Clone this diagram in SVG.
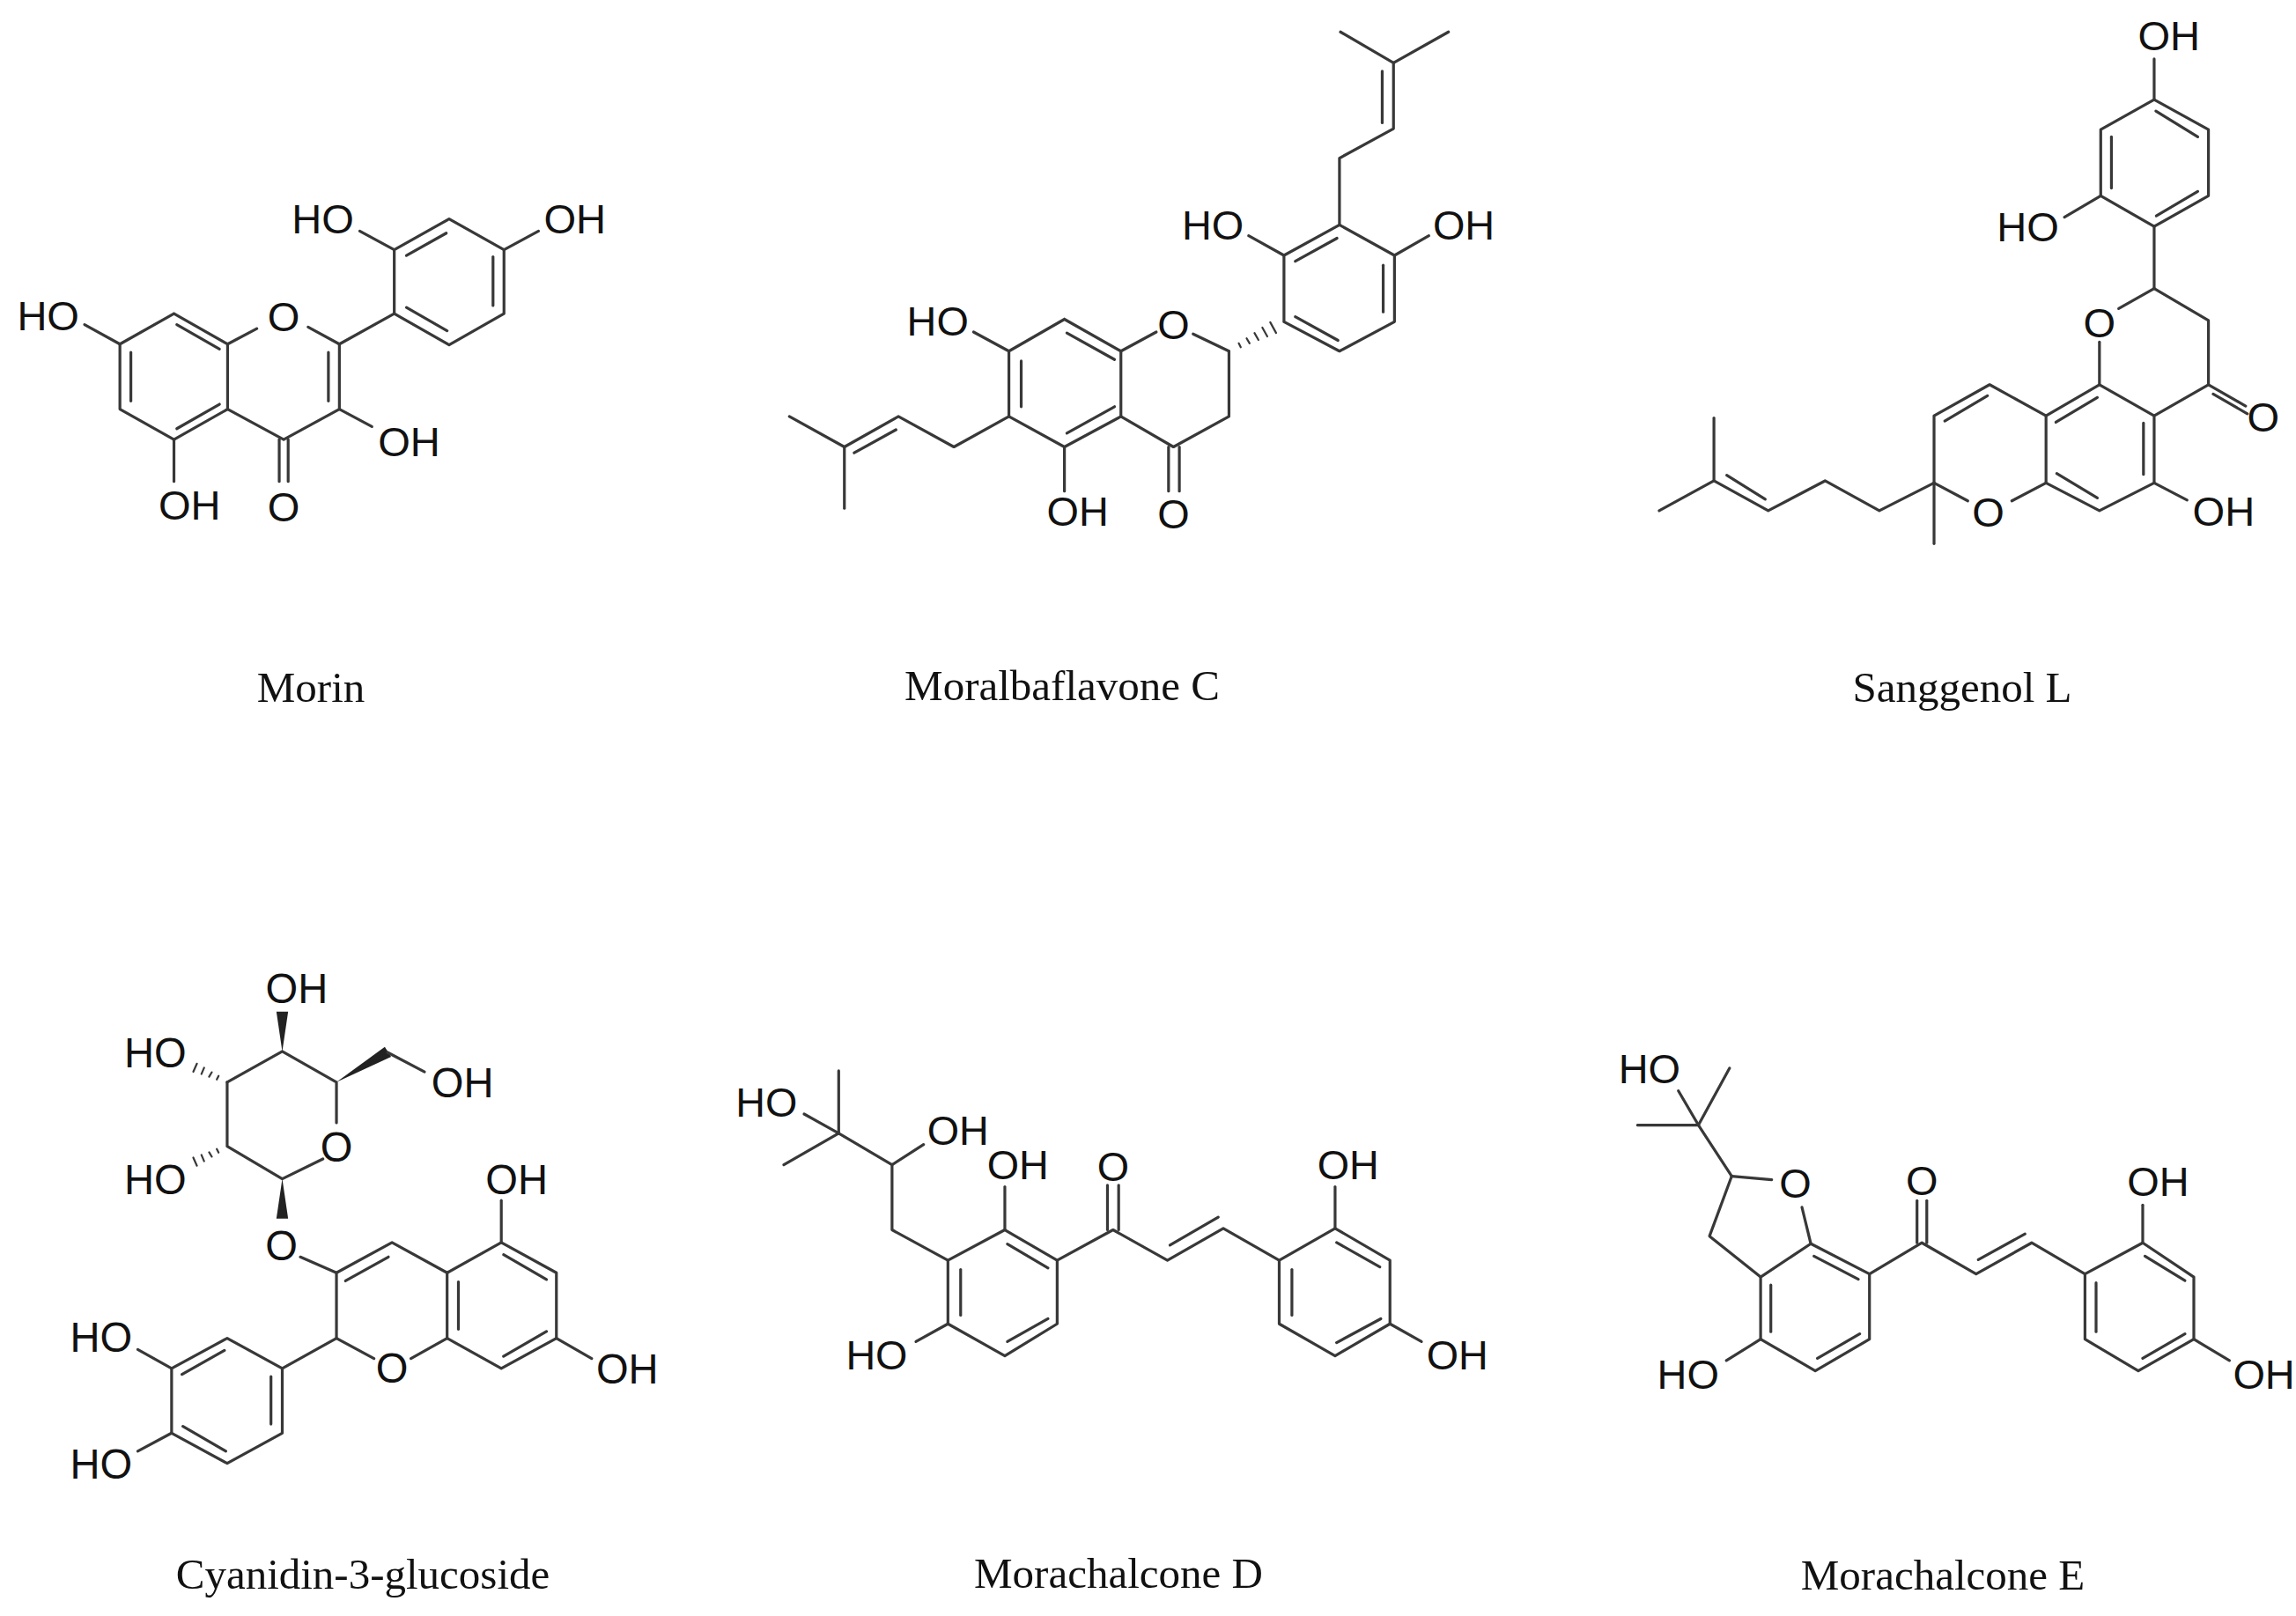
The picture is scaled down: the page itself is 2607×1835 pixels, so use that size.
<svg xmlns="http://www.w3.org/2000/svg" width="2607" height="1835" viewBox="0 0 2607 1835">
<style>
line,polyline{stroke:#383838;stroke-width:3.2;fill:none;vector-effect:non-scaling-stroke;stroke-linecap:round;stroke-linejoin:round}
.h line{stroke-width:2.2}
polygon{fill:#222;stroke:none}
text{font-family:"Liberation Sans",Arial,sans-serif;fill:#111}
text.c{text-anchor:middle}
.cap{font-family:"Liberation Serif","Times New Roman",serif;font-size:49px;text-anchor:middle;fill:#111}
</style>
<rect width="2607" height="1835" fill="#fff"/>

<g id="morin" transform="translate(0,100) scale(0.4615)" font-size="102">
<polyline points="428,555 560,630 560,790 428,865 295,790 295,630 428,555"/>
<line x1="435" y1="582" x2="540" y2="642"/><line x1="322" y1="650" x2="322" y2="770"/><line x1="435" y1="838" x2="540" y2="778"/>
<line x1="560" y1="630" x2="632" y2="592"/><line x1="758" y1="588" x2="835" y2="630"/>
<polyline points="835,630 835,790 698,865 560,790"/>
<line x1="808" y1="650" x2="808" y2="770"/>
<line x1="687" y1="865" x2="687" y2="968"/><line x1="709" y1="865" x2="709" y2="968"/>
<line x1="835" y1="790" x2="915" y2="833"/><line x1="428" y1="865" x2="428" y2="968"/><line x1="295" y1="630" x2="208" y2="582"/>
<line x1="835" y1="630" x2="970" y2="555"/>
<polyline points="970,555 970,398 1105,322 1240,398 1240,555 1105,632 970,555"/>
<line x1="1000" y1="412" x2="1098" y2="357"/><line x1="1213" y1="415" x2="1213" y2="535"/><line x1="1000" y1="540" x2="1100" y2="597"/>
<line x1="970" y1="398" x2="885" y2="352"/><line x1="1240" y1="398" x2="1325" y2="352"/>
<text class="c" x="698" y="597">O</text><text class="c" x="698" y="1067">O</text>
<text x="930" y="905">OH</text><text x="390" y="1062">OH</text><text x="42" y="595">HO</text>
<text x="718" y="358">HO</text><text x="1338" y="358">OH</text>
</g>

<g id="moralbaflavone-c" transform="translate(850,0) scale(0.5577)" font-size="84">
<polyline points="643,650 758,715 758,848 643,910 530,848 530,715 643,650"/>
<line x1="648" y1="678" x2="745" y2="732"/><line x1="555" y1="735" x2="555" y2="828"/><line x1="648" y1="882" x2="745" y2="828"/>
<line x1="758" y1="715" x2="830" y2="676"/><line x1="905" y1="680" x2="978" y2="715"/>
<polyline points="978,715 978,848 865,910 758,848"/>
<line x1="855" y1="910" x2="855" y2="1000"/><line x1="877" y1="910" x2="877" y2="1000"/>
<line x1="643" y1="910" x2="643" y2="1000"/><line x1="530" y1="715" x2="458" y2="676"/>
<polyline points="530,848 418,910 305,848 195,910 83,848"/><line x1="300" y1="875" x2="215" y2="922"/><line x1="195" y1="910" x2="195" y2="1035"/>
<g class="h"><line x1="998" y1="699" x2="1002" y2="707"/><line x1="1014" y1="689" x2="1020" y2="699"/><line x1="1030" y1="678" x2="1038" y2="692"/><line x1="1046" y1="667" x2="1056" y2="685"/><line x1="1062" y1="656" x2="1074" y2="678"/></g>
<polyline points="1090,655 1090,520 1203,458 1315,520 1315,655 1203,715 1090,655"/>
<line x1="1113" y1="532" x2="1198" y2="485"/><line x1="1292" y1="540" x2="1292" y2="635"/><line x1="1113" y1="645" x2="1200" y2="693"/>
<line x1="1090" y1="520" x2="1018" y2="480"/><line x1="1315" y1="520" x2="1385" y2="480"/>
<polyline points="1203,458 1203,322 1313,262 1313,128 1205,65"/><line x1="1290" y1="145" x2="1290" y2="250"/><line x1="1313" y1="128" x2="1425" y2="65"/>
<text class="c" x="865" y="690">O</text><text class="c" x="865" y="1075">O</text>
<text x="607" y="1070">OH</text><text x="322" y="683">HO</text><text x="882" y="487">HO</text><text x="1393" y="487">OH</text>
</g>

<g id="sanggenol-l" transform="translate(1850,0) scale(0.4853)" font-size="97">
<polyline points="1228,530 1103,458 1103,303 1228,233 1355,303 1355,458 1228,530"/>
<line x1="1128" y1="320" x2="1128" y2="440"/><line x1="1232" y1="260" x2="1330" y2="320"/><line x1="1233" y1="505" x2="1330" y2="448"/>
<line x1="1228" y1="233" x2="1228" y2="138"/><line x1="1103" y1="458" x2="1018" y2="508"/>
<line x1="1228" y1="530" x2="1228" y2="675"/><line x1="1228" y1="675" x2="1145" y2="722"/>
<polyline points="1228,675 1355,750 1355,900 1228,973 1228,1130 1100,1195 975,1130 975,973 1100,900 1228,973"/>
<line x1="1355" y1="900" x2="1442" y2="950"/><line x1="1366" y1="922" x2="1446" y2="968"/>
<line x1="1203" y1="990" x2="1203" y2="1110"/><line x1="1228" y1="1130" x2="1305" y2="1170"/>
<line x1="1000" y1="1108" x2="1095" y2="1165"/><line x1="998" y1="988" x2="1095" y2="930"/>
<line x1="1100" y1="900" x2="1100" y2="800"/>
<line x1="975" y1="1130" x2="895" y2="1172"/><line x1="792" y1="1172" x2="713" y2="1130"/>
<polyline points="975,973 843,900 713,973 713,1130"/><line x1="838" y1="926" x2="738" y2="985"/>
<line x1="713" y1="1130" x2="713" y2="1272"/>
<polyline points="713,1130 585,1195 458,1125 325,1195 198,1125 70,1195"/><line x1="318" y1="1168" x2="228" y2="1112"/><line x1="198" y1="1125" x2="198" y2="978"/>
<text class="c" x="1100" y="790">O</text><text class="c" x="1483" y="1010">O</text><text class="c" x="840" y="1233">O</text>
<text x="1190" y="118">OH</text><text x="860" y="565">HO</text><text x="1318" y="1230">OH</text>
</g>

<g id="cyanidin-3-glucoside" transform="translate(0,1035) scale(0.5128)" font-size="92">
<polyline points="503,378 625,310 745,378 745,468"/>
<polyline points="715,548 625,592 503,520 503,378"/>
<polygon points="625,310 612,222 638,222"/>
<polygon points="745,378 852,300 866,322"/><line x1="858" y1="312" x2="940" y2="355"/>
<polygon points="625,592 612,680 638,680"/>
<g class="h"><line x1="484" y1="364" x2="480" y2="372"/><line x1="469" y1="356" x2="463" y2="366"/><line x1="452" y1="346" x2="446" y2="360"/><line x1="436" y1="337" x2="428" y2="355"/>
<line x1="484" y1="534" x2="480" y2="526"/><line x1="469" y1="543" x2="463" y2="533"/><line x1="452" y1="553" x2="446" y2="539"/><line x1="436" y1="563" x2="428" y2="545"/></g>
<line x1="665" y1="765" x2="745" y2="800"/>
<polyline points="910,990 990,945 990,800 868,733 745,800 745,945 828,990"/>
<line x1="765" y1="818" x2="860" y2="765"/>
<polyline points="990,800 1110,733 1232,800 1232,945 1110,1012 990,945"/>
<line x1="1015" y1="820" x2="1015" y2="925"/><line x1="1115" y1="760" x2="1210" y2="815"/><line x1="1210" y1="930" x2="1115" y2="985"/>
<line x1="1110" y1="733" x2="1110" y2="640"/><line x1="1232" y1="945" x2="1310" y2="990"/>
<line x1="745" y1="945" x2="625" y2="1012"/>
<polyline points="625,1012 503,945 380,1012 380,1155 503,1222 625,1155 625,1012"/>
<line x1="497" y1="972" x2="403" y2="1025"/><line x1="600" y1="1030" x2="600" y2="1135"/><line x1="405" y1="1140" x2="500" y2="1195"/>
<line x1="380" y1="1012" x2="305" y2="970"/><line x1="380" y1="1155" x2="305" y2="1195"/>
<text class="c" x="745" y="553">O</text><text class="c" x="623" y="773">O</text><text class="c" x="868" y="1043">O</text>
<text x="588" y="203">OH</text><text x="275" y="345">HO</text><text x="955" y="412">OH</text><text x="275" y="625">HO</text>
<text x="1075" y="625">OH</text><text x="1320" y="1045">OH</text><text x="155" y="975">HO</text><text x="155" y="1255">HO</text>
</g>

<g id="morachalcone-d" transform="translate(815,935) scale(0.5769)" font-size="81">
<polyline points="565,800 668,860 668,985 565,1048 453,985 453,860 565,800"/>
<line x1="570" y1="828" x2="650" y2="875"/><line x1="478" y1="878" x2="478" y2="968"/><line x1="570" y1="1020" x2="650" y2="975"/>
<line x1="565" y1="800" x2="565" y2="715"/><line x1="453" y1="985" x2="390" y2="1020"/>
<polyline points="453,860 343,800 343,672 238,610 130,672"/><line x1="343" y1="672" x2="405" y2="632"/>
<line x1="238" y1="610" x2="238" y2="487"/><line x1="238" y1="610" x2="170" y2="572"/>
<polyline points="668,860 778,800 885,860 995,797 1105,860"/>
<line x1="767" y1="800" x2="767" y2="712"/><line x1="789" y1="800" x2="789" y2="712"/>
<line x1="890" y1="830" x2="985" y2="775"/>
<polyline points="1105,860 1215,797 1323,860 1323,985 1215,1048 1105,985 1105,860"/>
<line x1="1218" y1="825" x2="1303" y2="873"/><line x1="1130" y1="878" x2="1130" y2="968"/><line x1="1305" y1="975" x2="1218" y2="1022"/>
<line x1="1215" y1="797" x2="1215" y2="715"/><line x1="1323" y1="985" x2="1385" y2="1020"/>
<text class="c" x="778" y="703">O</text>
<text x="530" y="700">OH</text><text x="252" y="1075">HO</text><text x="412" y="632">OH</text><text x="35" y="578">HO</text>
<text x="1180" y="700">OH</text><text x="1395" y="1075">OH</text>
</g>

<g id="morachalcone-e" transform="translate(1820,1048) scale(0.5045)" font-size="93">
<polyline points="468,722 600,790 600,937 478,1008 355,937 355,797 468,722"/>
<line x1="475" y1="750" x2="575" y2="802"/><line x1="378" y1="815" x2="378" y2="920"/><line x1="578" y1="925" x2="483" y2="980"/>
<line x1="355" y1="937" x2="278" y2="985"/>
<line x1="468" y1="722" x2="448" y2="640"/><line x1="380" y1="578" x2="290" y2="570"/>
<polyline points="290,570 240,705 355,797"/>
<line x1="290" y1="570" x2="215" y2="455"/><line x1="215" y1="455" x2="78" y2="455"/><line x1="215" y1="455" x2="285" y2="327"/><line x1="215" y1="455" x2="170" y2="378"/>
<polyline points="600,790 718,720 840,790 965,720 1085,790"/>
<line x1="707" y1="720" x2="707" y2="625"/><line x1="729" y1="720" x2="729" y2="625"/>
<line x1="845" y1="758" x2="950" y2="700"/>
<polyline points="1085,790 1215,720 1330,797 1330,937 1205,1008 1085,937 1085,790"/>
<line x1="1220" y1="750" x2="1310" y2="805"/><line x1="1110" y1="810" x2="1110" y2="920"/><line x1="1310" y1="925" x2="1215" y2="980"/>
<line x1="1215" y1="720" x2="1215" y2="635"/><line x1="1330" y1="937" x2="1410" y2="985"/>
<text class="c" x="433" y="618">O</text><text class="c" x="718" y="613">O</text>
<text x="122" y="1048">HO</text><text x="35" y="360">HO</text><text x="1180" y="615">OH</text><text x="1418" y="1048">OH</text>
</g>

<g id="captions">
<text class="cap" x="353" y="797">Morin</text>
<text class="cap" x="1206" y="795">Moralbaflavone C</text>
<text class="cap" x="2228" y="797">Sanggenol L</text>
<text class="cap" x="412" y="1804">Cyanidin-3-glucoside</text>
<text class="cap" x="1270" y="1803">Morachalcone D</text>
<text class="cap" x="2206" y="1805">Morachalcone E</text>
</g>
</svg>
